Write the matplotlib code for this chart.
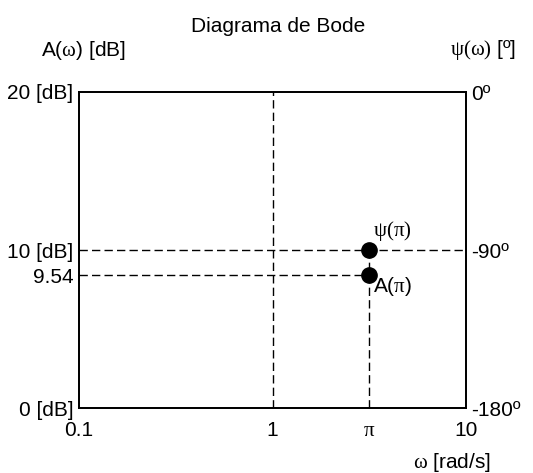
import numpy as np
import matplotlib
matplotlib.use("Agg")
import matplotlib.pyplot as plt

plt.rcParams['font.family'] = ['Liberation Sans', 'DejaVu Sans']
plt.rcParams['mathtext.fontset'] = 'custom'
plt.rcParams['mathtext.rm'] = 'Liberation Serif'
plt.rcParams['mathtext.it'] = 'Liberation Serif'

# data
x_ticks = [0.1, 1, np.pi, 10]
x_ticklabels = ['0.1', '1', r'$\mathrm{\pi}$', '10']
y_ticks = [0, 8.4, 10, 20]
y_ticklabels = ['0 [dB]', '9.54', '10 [dB]', '20 [dB]']
phase_ticks = [-180, -90, 0]
phase_ticklabels = ['-180º', '-90º', '0º']
w_pi = np.pi
psi_level = 10      # -90º drawn at 10 dB level
a_level = 8.4       # A(pi)=9.54 dB as drawn

FS = 15

fig = plt.figure(figsize=(5.33, 4.73), dpi=100)
ax = fig.add_axes([79/533, 1-408/473, (466-79)/533, (408-92)/473])
ax.set_xscale('log')
ax.set_xlim(0.1, 10)
ax.set_ylim(0, 20)

dash = dict(color='black', lw=1.0, ls=(0, (6, 3)))
ax.axvline(1, **dash)
ax.axhline(psi_level, **dash)
ax.plot([0.1, w_pi], [a_level, a_level], **dash)
ax.plot([w_pi, w_pi], [0, psi_level], **dash)
ax.plot([w_pi, w_pi], [psi_level, a_level], 'o', color='black', ms=11, zorder=5)

ax.set_xticks(x_ticks)
ax.set_xticklabels(x_ticklabels)
ax.minorticks_off()
ax.set_yticks(y_ticks)
ax.set_yticklabels(y_ticklabels)
ax.tick_params(length=0, labelsize=FS)
ax.tick_params(axis='x', pad=9)
ax.tick_params(axis='y', pad=4)

ax2 = ax.twinx()
ax2.set_ylim(-180, 0)
ax2.set_yticks(phase_ticks)
ax2.set_yticklabels(phase_ticklabels)
ax2.tick_params(length=0, labelsize=FS, pad=4)

for a in (ax, ax2):
    for s in a.spines.values():
        s.set_linewidth(1.3)

ax.annotate(r'$\mathrm{\psi(\pi)}$', xy=(w_pi, psi_level), xytext=(3, 5),
            textcoords='offset points', ha='left', va='bottom', fontsize=FS)
ax.annotate(r'A($\mathrm{\pi}$)', xy=(w_pi, a_level), xytext=(3, 0),
            textcoords='offset points', ha='left', va='top', fontsize=FS)

fig.text(278/533, 1-26/473, 'Diagrama de Bode', ha='center', va='center', fontsize=FS)
fig.text(41/533, 1-50/473, r'A($\mathrm{\omega}$) [dB]', ha='left', va='center', fontsize=FS)
fig.text(516/533, 1-50/473, r'$\mathrm{\psi(\omega)}$ [º]', ha='right', va='center', fontsize=FS)
fig.text(491/533, 1-462/473, r'$\mathrm{\omega}$ [rad/s]', ha='right', va='center', fontsize=FS)

fig.savefig('out.png', dpi=100)
